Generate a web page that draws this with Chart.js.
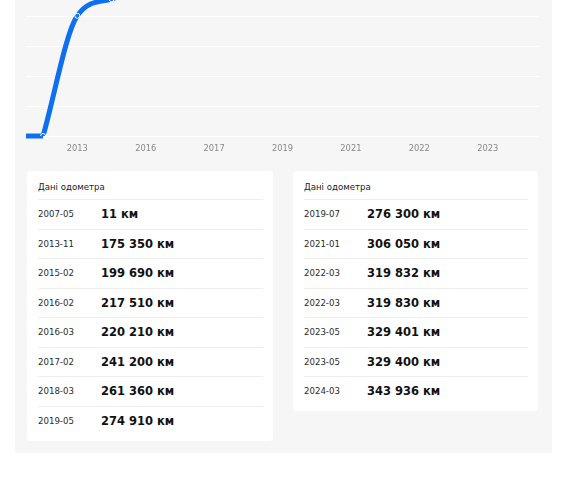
<!DOCTYPE html>
<html>
<head>
<meta charset="utf-8">
<script src="https://cdn.jsdelivr.net/npm/chart.js@4/dist/chart.umd.min.js"></script>
<style>
  html, body { margin: 0; padding: 0; background: #fff; }
  body { width: 562px; height: 480px; overflow: hidden; position: relative; font-family: "DejaVu Sans", sans-serif; }
  .panel { position: absolute; left: 15px; top: -140px; width: 537px; height: 593px; background: #f6f6f6; }
  .chartBox { position: absolute; left: 15px; top: -120px; width: 537px; height: 280px; }
  .card { position: absolute; top: 171px; background: #fff; border-radius: 4px; padding: 0 10px 0 11px; box-sizing: border-box; }
  .card .title { padding-top: 11px; height: 17px; line-height: 10px; font-size: 8.6px; color: #222; }
  .row { height: 29.5px; border-top: 1px solid #eeeeee; box-sizing: border-box; display: flex; align-items: center; }
  .row .date { width: 63px; font-size: 8.6px; color: #2a2a2a; }
  .row .val { font-size: 11.5px; font-weight: bold; color: #111; }
</style>
</head>
<body>
<div class="panel"></div>
<div class="chartBox"><canvas id="odoChart"></canvas></div>
<div class="card" id="cardLeft" style="left:27px;width:246px;height:270px;"><div class="title">Дані одометра</div></div>
<div class="card" id="cardRight" style="left:293px;width:245px;height:240px;"><div class="title">Дані одометра</div></div>
<script>
const dates = ["2007-05", "2013-11", "2015-02", "2016-02", "2016-03", "2017-02", "2018-03", "2019-05",
  "2019-07", "2021-01", "2022-03", "2022-03", "2023-05", "2023-05", "2024-03"];
const mileage = [11, 175350, 199690, 217510, 220210, 241200, 261360, 274910,
  276300, 306050, 319832, 319830, 329401, 329400, 343936];
const xTickLabels = ["", "2013", "", "2016", "", "2017", "", "2019", "", "2021", "", "2022", "", "2023", ""];

const lineBlue = "#0e6ff0";

// fill the tables
const fmt = (n) => String(n).replace(/\B(?=(\d{3})+(?!\d))/g, " ") + " км";
const fillCard = (id, from, to) => {
  const card = document.getElementById(id);
  for (let i = from; i < to; i++) {
    const row = document.createElement("div");
    row.className = "row";
    row.innerHTML = '<span class="date">' + dates[i] + '</span><span class="val">' + fmt(mileage[i]) + "</span>";
    card.appendChild(row);
  }
};
fillCard("cardLeft", 0, 8);
fillCard("cardRight", 8, 15);

// line continues flat from the chart edge to the first point
const edgeLine = {
  id: "edgeLine",
  beforeDatasetsDraw(chart) {
    const pts = chart.getDatasetMeta(0).data;
    if (!pts.length) return;
    const { ctx, chartArea } = chart;
    ctx.save();
    ctx.strokeStyle = lineBlue;
    ctx.lineWidth = 5;
    ctx.beginPath();
    ctx.moveTo(chartArea.left, pts[0].y);
    ctx.lineTo(pts[0].x, pts[0].y);
    ctx.moveTo(pts[pts.length - 1].x, pts[pts.length - 1].y);
    ctx.lineTo(chartArea.right, pts[pts.length - 1].y);
    ctx.stroke();
    ctx.restore();
  },
};

new Chart(document.getElementById("odoChart"), {
  type: "line",
  data: {
    labels: dates,
    datasets: [
      {
        data: mileage,
        borderColor: lineBlue,
        borderWidth: 5,
        cubicInterpolationMode: "monotone",
        pointRadius: 2.5,
        pointBackgroundColor: lineBlue,
        pointBorderColor: "#ffffff",
        pointBorderWidth: 1,
        fill: false,
      },
    ],
  },
  options: {
    animation: false,
    responsive: true,
    maintainAspectRatio: false,
    layout: { padding: { left: 11, right: 13, top: 16, bottom: 6 } },
    plugins: { legend: { display: false }, tooltip: { enabled: false } },
    scales: {
      x: {
        offset: true,
        grid: { display: false },
        border: { display: false },
        ticks: {
          autoSkip: false,
          maxRotation: 0,
          padding: 0,
          color: "#8a8a8a",
          font: { family: "DejaVu Sans", size: 8.3 },
          callback: (value, index) => xTickLabels[index],
        },
      },
      y: {
        min: 0,
        max: 350000,
        grid: { color: "#ffffff", lineWidth: 1, drawTicks: false },
        border: { display: false },
        ticks: { display: false, count: 9 },
      },
    },
  },
  plugins: [edgeLine],
});
</script>
</body>
</html>
